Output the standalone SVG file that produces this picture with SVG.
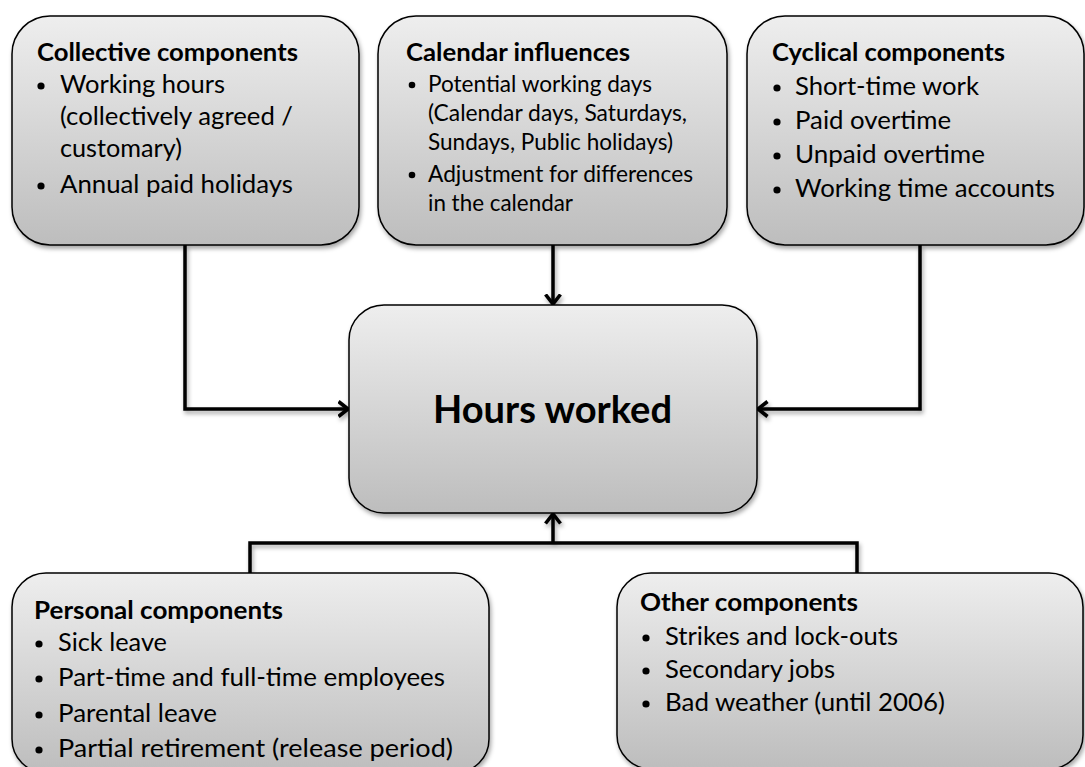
<svg xmlns="http://www.w3.org/2000/svg" width="1085" height="767" viewBox="0 0 1085 767">
<style>
.box{stroke:#000;stroke-width:1.5;fill:url(#g);filter:url(#sh)}
.t{font-family:Lato,"Open Sans","Liberation Sans",sans-serif;fill:#000}
.h{font-weight:bold;font-size:24px}
.b{font-size:25px}
.c{font-size:23px}
.dot{fill:#000}
.conn{fill:none;stroke:#000;stroke-width:3.5;stroke-linejoin:miter}
</style>
<defs>
<linearGradient id="g" x1="0" y1="0" x2="0" y2="1">
<stop offset="0" stop-color="#eeeeee"/>
<stop offset="1" stop-color="#bdbdbd"/>
</linearGradient>
<filter id="sh" x="-10%" y="-10%" width="120%" height="130%">
<feDropShadow dx="1.5" dy="3" stdDeviation="2" flood-color="#000" flood-opacity="0.35"/>
</filter>
<marker id="ah" viewBox="0 0 12 18" refX="10.5" refY="9" markerWidth="12" markerHeight="18" markerUnits="userSpaceOnUse" orient="auto">
<path d="M1,1.5 L10.5,9 L1,16.5" fill="none" stroke="#000" stroke-width="3.6"/>
</marker>
</defs>
<rect width="1085" height="767" fill="#fff"/>

<g id="connectors" filter="url(#sh)">
<path class="conn" d="M185,245 V409 H348" marker-end="url(#ah)"/>
<path class="conn" d="M920,245 V409 H758" marker-end="url(#ah)"/>
<path class="conn" d="M553,245 V304" marker-end="url(#ah)"/>
<path class="conn" d="M250,574 V543 H857 V574"/>
<path class="conn" d="M553,543 V514" marker-end="url(#ah)"/>
</g>

<g id="collective">
<rect class="box" x="12" y="16" width="347" height="229" rx="38"/>
<text class="t h" x="37" y="61" textLength="261" lengthAdjust="spacingAndGlyphs">Collective components</text>
<circle class="dot" cx="41" cy="86" r="3.6"/>
<text class="t b" x="60" y="93" textLength="165" lengthAdjust="spacingAndGlyphs">Working hours</text>
<text class="t b" x="60" y="125" textLength="233" lengthAdjust="spacingAndGlyphs">(collectively agreed /</text>
<text class="t b" x="60" y="157" textLength="122" lengthAdjust="spacingAndGlyphs">customary)</text>
<circle class="dot" cx="41" cy="186" r="3.6"/>
<text class="t b" x="60" y="193" textLength="233" lengthAdjust="spacingAndGlyphs">Annual paid holidays</text>
</g>

<g id="calendar">
<rect class="box" x="378" y="16" width="349" height="229" rx="38"/>
<text class="t h" x="406" y="61" textLength="224" lengthAdjust="spacingAndGlyphs">Calendar influences</text>
<circle class="dot" cx="412" cy="85" r="3.3"/>
<text class="t c" x="428" y="92" textLength="224" lengthAdjust="spacingAndGlyphs">Potential working days</text>
<text class="t c" x="428" y="121" textLength="259" lengthAdjust="spacingAndGlyphs">(Calendar days, Saturdays,</text>
<text class="t c" x="428" y="150" textLength="245" lengthAdjust="spacingAndGlyphs">Sundays, Public holidays)</text>
<circle class="dot" cx="412" cy="175" r="3.3"/>
<text class="t c" x="428" y="182" textLength="265" lengthAdjust="spacingAndGlyphs">Adjustment for differences</text>
<text class="t c" x="428" y="211" textLength="145" lengthAdjust="spacingAndGlyphs">in the calendar</text>
</g>

<g id="cyclical">
<rect class="box" x="747" y="16" width="337" height="229" rx="38"/>
<text class="t h" x="772" y="61" textLength="233" lengthAdjust="spacingAndGlyphs">Cyclical components</text>
<circle class="dot" cx="777" cy="88" r="3.6"/>
<text class="t b" x="795" y="95" textLength="184" lengthAdjust="spacingAndGlyphs">Short-time work</text>
<circle class="dot" cx="777" cy="122" r="3.6"/>
<text class="t b" x="795" y="129" textLength="156" lengthAdjust="spacingAndGlyphs">Paid overtime</text>
<circle class="dot" cx="777" cy="156" r="3.6"/>
<text class="t b" x="795" y="163" textLength="190" lengthAdjust="spacingAndGlyphs">Unpaid overtime</text>
<circle class="dot" cx="777" cy="190" r="3.6"/>
<text class="t b" x="795" y="197" textLength="260" lengthAdjust="spacingAndGlyphs">Working time accounts</text>
</g>

<g id="hours">
<rect class="box" x="349" y="305" width="408" height="208" rx="35"/>
<text class="t" x="433" y="423" font-size="38" font-weight="bold" textLength="239" lengthAdjust="spacingAndGlyphs">Hours worked</text>
</g>

<g id="personal">
<rect class="box" x="12" y="573" width="477" height="200" rx="34"/>
<text class="t h" x="34" y="619" textLength="249" lengthAdjust="spacingAndGlyphs">Personal components</text>
<circle class="dot" cx="39" cy="644" r="3.6"/>
<text class="t b" x="58" y="651" textLength="109" lengthAdjust="spacingAndGlyphs">Sick leave</text>
<circle class="dot" cx="39" cy="679" r="3.6"/>
<text class="t b" x="58" y="686" textLength="387" lengthAdjust="spacingAndGlyphs">Part-time and full-time employees</text>
<circle class="dot" cx="39" cy="715" r="3.6"/>
<text class="t b" x="58" y="722" textLength="159" lengthAdjust="spacingAndGlyphs">Parental leave</text>
<circle class="dot" cx="39" cy="750" r="3.6"/>
<text class="t b" x="58" y="757" textLength="395" lengthAdjust="spacingAndGlyphs">Partial retirement (release period)</text>
</g>

<g id="other">
<rect class="box" x="617" y="573" width="466" height="196" rx="34"/>
<text class="t h" x="640" y="611" textLength="218" lengthAdjust="spacingAndGlyphs">Other components</text>
<circle class="dot" cx="646" cy="638" r="3.6"/>
<text class="t b" x="665" y="645" textLength="233" lengthAdjust="spacingAndGlyphs">Strikes and lock-outs</text>
<circle class="dot" cx="646" cy="671" r="3.6"/>
<text class="t b" x="665" y="678" textLength="170" lengthAdjust="spacingAndGlyphs">Secondary jobs</text>
<circle class="dot" cx="646" cy="704" r="3.6"/>
<text class="t b" x="665" y="711" textLength="280" lengthAdjust="spacingAndGlyphs">Bad weather (until 2006)</text>
</g>
</svg>
